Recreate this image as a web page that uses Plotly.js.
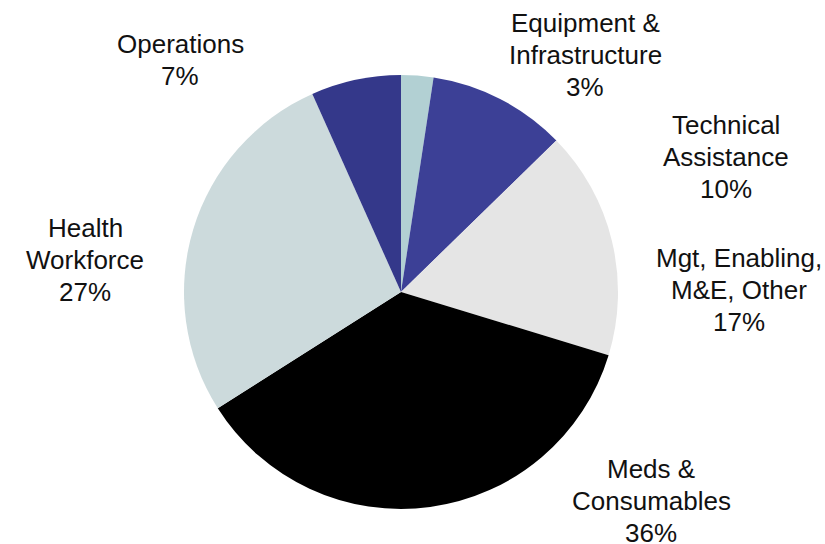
<!DOCTYPE html>
<html>
<head>
<meta charset="utf-8">
<script src="https://cdn.plot.ly/plotly-3.0.1.min.js"></script>
<style>html,body{margin:0;padding:0;background:#fff;}#chart{width:825px;height:544px;}</style>
</head>
<body>
<div id="chart"></div>
<script>
const categories = ["Equipment & Infrastructure", "Technical Assistance", "Mgt, Enabling, M&E, Other", "Meds & Consumables", "Health Workforce", "Operations"];
const shares = [2.4, 10.3, 17.0, 36.3, 27.3, 6.7];
const labelLines = [["Equipment &", "Infrastructure", "3%"], ["Technical", "Assistance", "10%"], ["Mgt, Enabling,", "M&E, Other", "17%"], ["Meds &", "Consumables", "36%"], ["Health", "Workforce", "27%"], ["Operations", "7%"]];
const colors = ["#b2d0d3", "#3c4096", "#e5e5e5", "#000000", "#ccdadc", "#34388a"];

const W = 825, H = 544;
const labelPos = [[585, 55], [726, 157], [739, 290], [651, 501], [85, 260], [180, 60]];
const lineGap = 32;

const annotations = [];
labelLines.forEach((lines, i) => {
  const n = lines.length;
  lines.forEach((t, k) => {
    const py = labelPos[i][1] + (k - (n - 1) / 2) * lineGap;
    annotations.push({
      text: t,
      x: labelPos[i][0] / W,
      y: 1 - py / H,
      xref: "paper", yref: "paper",
      xanchor: "center", yanchor: "middle",
      showarrow: false,
      font: {family: "Liberation Sans, Arial, sans-serif", size: 26, color: "#111111"}
    });
  });
});

const cx = 401, cy = 292, r = 217;
const trace = {
  type: "pie",
  labels: categories,
  values: shares,
  sort: false,
  direction: "clockwise",
  rotation: 0,
  textinfo: "none",
  hoverinfo: "label+percent",
  marker: {colors: colors, line: {width: 0}},
  domain: {x: [(cx - r) / W, (cx + r) / W], y: [(H - cy - r) / H, (H - cy + r) / H]},
  showlegend: false
};

Plotly.newPlot("chart", [trace], {
  width: W, height: H,
  margin: {l: 0, r: 0, t: 0, b: 0},
  paper_bgcolor: "#ffffff",
  showlegend: false,
  annotations: annotations
}, {displayModeBar: false, staticPlot: true});
</script>
</body>
</html>
